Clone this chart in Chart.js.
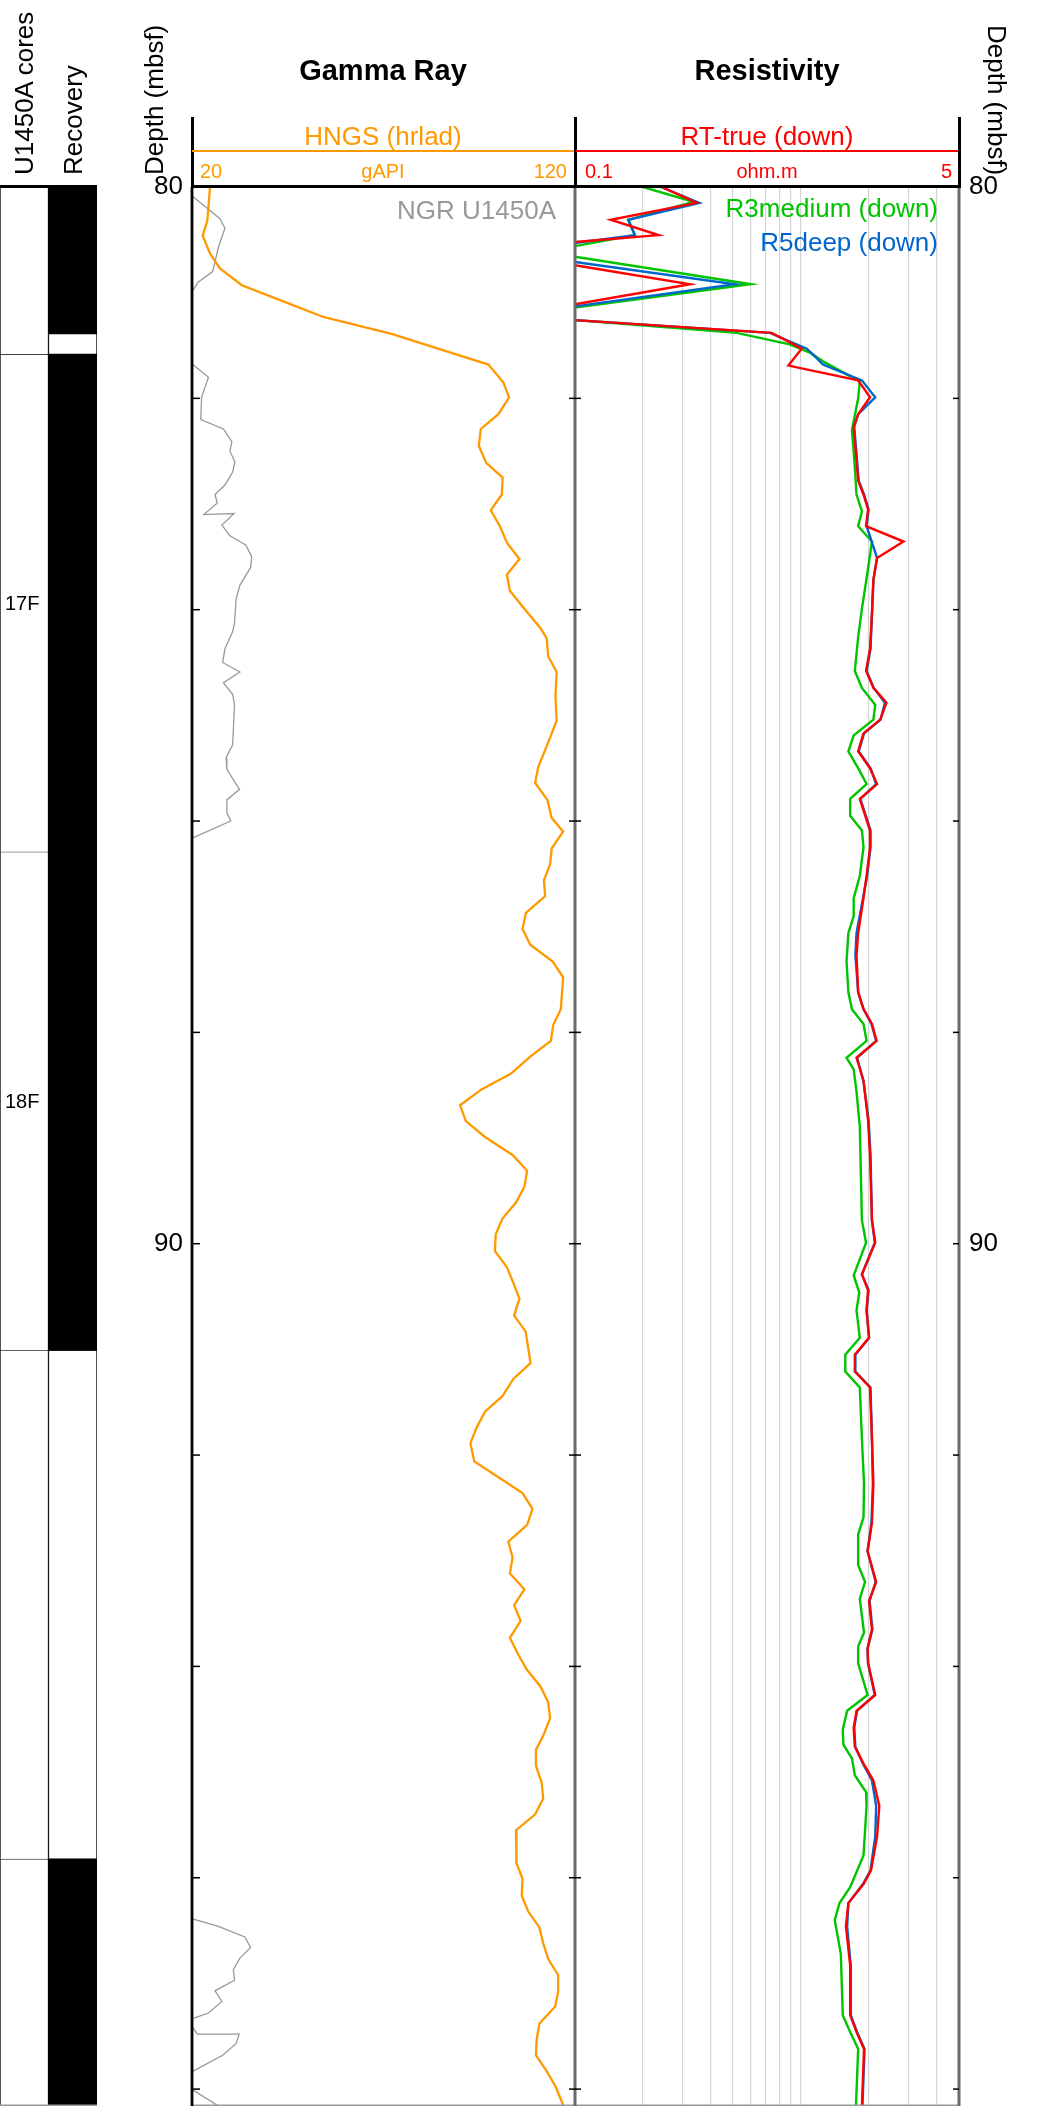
<!DOCTYPE html>
<html>
<head>
<meta charset="utf-8">
<script src="https://cdn.jsdelivr.net/npm/chart.js@4.4.1/dist/chart.umd.min.js"></script>
<style>
html,body{margin:0;padding:0;background:#fff;}
body{width:1054px;height:2106px;position:relative;overflow:hidden;font-family:"Liberation Sans",Arial,Helvetica,sans-serif;color:#000;}
canvas{position:absolute;top:0;}
.t{position:absolute;white-space:nowrap;}
.c{text-align:center;width:400px;}
.r{text-align:right;width:400px;}
.f26{font-size:26px;line-height:26px;}
.f20{font-size:20px;line-height:20px;}
.b29{font-size:29px;line-height:29px;font-weight:bold;}
.rl{transform:rotate(-90deg);transform-origin:0 0;}
.rr{transform:rotate(90deg);transform-origin:0 0;}
.ln{position:absolute;}
</style>
</head>
<body>
<canvas id="cores" width="97" height="2106" style="left:0"></canvas>
<canvas id="gamma" width="480" height="2140" style="left:100px"></canvas>
<canvas id="res" width="554" height="2140" style="left:500px"></canvas>

<!-- header structure -->
<div class="ln" style="left:190.5px;top:117px;width:3px;height:70px;background:#000"></div>
<div class="ln" style="left:573.5px;top:117px;width:3px;height:70px;background:#000"></div>
<div class="ln" style="left:957.5px;top:117px;width:3px;height:70px;background:#000"></div>
<div class="ln" style="left:192px;top:150px;width:382px;height:2px;background:#ff9900"></div>
<div class="ln" style="left:576px;top:150px;width:382px;height:2px;background:#ff0000"></div>
<div class="ln" style="left:190.5px;top:185.2px;width:770px;height:2.6px;background:#000"></div>
<div class="ln" style="left:0;top:185.2px;width:97px;height:2.6px;background:#000"></div>

<div class="t rl f26" style="left:11px;top:175px">U1450A cores</div>
<div class="t rl f26" style="left:60px;top:175px">Recovery</div>
<div class="t rl f26" style="left:141px;top:175px">Depth (mbsf)</div>
<div class="t rr f26" style="left:1010px;top:25px">Depth (mbsf)</div>

<div class="t c b29" style="left:183px;top:55.5px">Gamma Ray</div>
<div class="t c b29" style="left:567px;top:55.5px">Resistivity</div>
<div class="t c f26" style="left:183px;top:123px;color:#ff9900">HNGS (hrlad)</div>
<div class="t c f26" style="left:567px;top:123px;color:#ff0000">RT-true (down)</div>
<div class="t f20" style="left:200px;top:161px;color:#ff9900">20</div>
<div class="t c f20" style="left:183px;top:161px;color:#ff9900">gAPI</div>
<div class="t r f20" style="left:167px;top:161px;color:#ff9900">120</div>
<div class="t f20" style="left:585px;top:161px;color:#ff0000">0.1</div>
<div class="t c f20" style="left:567px;top:161px;color:#ff0000">ohm.m</div>
<div class="t r f20" style="left:552px;top:161px;color:#ff0000">5</div>
<div class="t r f26" style="left:156px;top:197px;color:#999999">NGR U1450A</div>
<div class="t r f26" style="left:538px;top:195px;color:#00c400">R3medium (down)</div>
<div class="t r f26" style="left:538px;top:229px;color:#0066cc">R5deep (down)</div>

<script>
// ---------------- data ----------------
const depthMin = 80;
const depthMax = 98.16;
const depthTicks = [80, 82, 84, 86, 88, 90, 92, 94, 96, 98];
const depthLabels = [80, 90];
const gammaMin = 20, gammaMax = 120;
const resMin = 0.1, resMax = 5;
const resGrid = [0.2, 0.3, 0.4, 0.5, 0.6, 0.7, 0.8, 0.9, 1, 2, 3, 4];

const coreNames  = ['16F', '17F', '18F', '19F', '20F'];
const coreTop    = [76.88, 81.58, 86.29, 91.01, 95.82];
const coreBottom = [81.58, 86.29, 91.01, 95.82, 100.52];
const recTop     = [76.88, 81.58, 86.29, null, 95.82];
const recBottom  = [81.39, 86.29, 91.01, null, 100.52];

const hngsDepth = [80.00,80.32,80.46,80.63,80.77,80.93,81.07,81.23,81.39,81.68,81.85,81.99,82.15,82.29,82.45,82.61,82.75,82.91,83.06,83.21,
  83.37,83.52,83.67,83.82,83.98,84.17,84.27,84.44,84.59,84.82,85.05,85.23,85.49,85.64,85.80,85.97,86.10,86.26,86.41,86.56,
  86.71,86.87,87.02,87.17,87.33,87.48,87.78,87.93,88.08,88.23,88.39,88.54,88.69,88.84,88.99,89.16,89.31,89.46,89.61,89.76,
  89.91,90.07,90.22,90.37,90.52,90.68,90.83,91.13,91.28,91.44,91.59,91.74,91.89,92.06,92.22,92.36,92.51,92.66,92.82,92.97,
  93.12,93.27,93.42,93.57,93.73,93.89,94.03,94.19,94.34,94.49,94.64,94.79,94.94,95.10,95.25,95.40,95.55,95.71,95.86,96.01,
  96.17,96.32,96.47,96.62,96.77,96.92,97.08,97.22,97.38,97.53,97.68,97.83,97.98,98.16];
const hngsValue = [24.7,24.0,22.8,24.7,27.3,33.0,43.0,54.3,72.1,97.4,101.3,102.8,100.0,95.4,94.9,96.8,101.1,100.9,98.0,100.4,
  102.3,105.5,102.2,103.0,106.5,110.9,112.6,113.0,115.2,114.9,115.2,113.3,110.4,109.6,112.8,113.9,116.9,113.9,113.5,111.9,
  112.2,107.2,106.3,108.3,114.2,116.9,116.3,114.3,113.7,108.3,103.3,95.6,90.0,91.5,96.5,103.7,107.5,106.8,104.6,101.1,
  99.3,99.1,102.2,103.9,105.5,104.1,107.1,108.4,103.9,101.1,96.5,94.3,92.7,93.7,100.4,106.3,108.9,107.5,102.6,103.7,
  103.0,106.8,104.1,105.8,103.0,105.2,107.4,111.0,113.0,113.5,111.9,109.8,109.8,111.3,111.7,109.6,104.6,104.8,104.6,106.3,
  106.1,107.8,110.7,111.7,113.0,115.6,115.6,114.8,110.7,110.0,109.8,112.6,115.0,117.0];

// NGR (null = no data)
const ngrDepth = [80.09,80.30,80.39,80.57,80.80,80.90,80.98,81.30,81.68,81.80,81.99,82.20,82.29,82.41,82.50,82.60,82.70,82.82,82.91,82.99,
  83.10,83.09,83.20,83.30,83.39,83.50,83.60,83.77,83.90,84.13,84.21,84.37,84.50,84.59,84.69,84.80,84.90,85.28,85.40,85.51,
  85.70,85.80,85.92,86.00,86.16,91.00,96.39,96.46,96.56,96.66,96.76,96.87,96.97,97.07,97.17,97.28,97.33,97.38,97.42,97.48,
  97.48,97.57,97.68,97.83,97.90,98.01,98.16];
const ngrValue = [20.2,27.3,28.6,26.9,25.4,21.6,20.2,null,20.2,24.3,22.5,22.3,28.2,30.4,29.9,31.2,30.6,28.6,26.0,26.6,
  23.1,31.0,27.8,29.9,34.1,35.6,35.3,32.5,31.5,31.1,30.6,28.6,28.0,32.5,28.2,30.6,31.1,30.6,28.9,29.1,
  32.4,29.1,29.1,30.1,20.2,null,20.1,26.9,33.8,35.3,32.5,30.8,31.1,26.0,27.8,24.3,20.3,null,20.3,21.4,
  32.3,31.5,28.0,20.3,null,20.3,26.9];

const rtDepth = [80.00,80.15,80.31,80.455,80.52,80.63,80.74,80.92,81.11,81.18,81.26,81.38,81.53,81.69,81.83,81.99,82.15,82.27,82.59,82.78,
  82.91,83.05,83.21,83.355,83.51,83.72,84.04,84.37,84.58,84.74,84.88,85.04,85.17,85.34,85.50,85.65,85.79,86.09,86.25,86.52,
  86.73,87.06,87.27,87.62,87.78,87.92,88.08,88.24,88.46,88.83,89.16,89.78,89.99,90.29,90.44,90.63,90.89,91.05,91.21,91.36,
  91.85,92.27,92.64,92.91,93.20,93.38,93.65,93.83,93.97,94.27,94.42,94.58,94.76,94.92,95.08,95.32,95.61,95.93,96.06,96.24,
  96.46,96.83,97.30,97.46,97.62,98.16];
const rtValue = [0.242,0.345,0.144,0.234,0.1,0.06,0.1,0.323,0.1,0.06,0.1,0.742,1.007,0.879,1.79,2.02,1.79,1.71,1.76,1.79,
  1.89,1.98,1.94,2.84,2.17,2.09,2.06,2.02,1.94,2.09,2.39,2.24,1.89,1.79,2.02,2.17,1.82,2.02,2.02,1.95,
  1.89,1.79,1.76,1.79,1.89,2.06,2.16,1.76,1.89,1.98,2.02,2.06,2.13,1.86,1.98,1.95,2.0,1.73,1.73,2.02,
  2.06,2.09,2.06,1.97,2.15,2.0,2.06,1.97,1.98,2.13,1.76,1.71,1.73,1.89,2.09,2.22,2.17,2.04,1.89,1.62,
  1.58,1.65,1.65,1.76,1.90,1.86];

const r5Depth = [80.00,80.15,80.31,80.455,80.53,80.62,80.71,80.92,81.13,81.19,81.26,81.38,81.53,81.60,81.68,81.83,81.99,82.15,82.27,82.59,
  82.78,82.91,83.05,83.21,83.51,83.72,84.04,84.37,84.58,84.74,84.88,85.04,85.17,85.34,85.50,85.65,85.79,86.09,86.25,86.52,
  86.73,87.06,87.27,87.62,87.78,87.92,88.08,88.24,88.46,88.83,89.16,89.78,89.99,90.29,90.44,90.63,90.89,91.05,91.21,91.36,
  91.85,92.27,92.64,92.91,93.20,93.38,93.65,93.83,93.97,94.27,94.42,94.58,94.76,94.92,95.08,95.32,95.61,95.93,96.06,96.24,
  96.46,96.83,97.30,97.46,97.62,98.16];
const r5Value = [0.24,0.355,0.172,0.184,0.1,0.06,0.1,0.51,0.1,0.06,0.1,0.729,1.06,1.15,1.25,1.86,2.13,1.79,1.72,1.77,
  1.80,1.90,1.99,1.95,2.17,2.09,2.06,2.03,1.95,2.10,2.35,2.25,1.90,1.80,2.03,2.15,1.83,2.03,2.03,1.96,
  1.88,1.76,1.74,1.79,1.89,2.05,2.15,1.77,1.89,1.99,2.03,2.06,2.12,1.86,1.99,1.95,2.0,1.74,1.74,2.03,
  2.06,2.08,2.05,1.97,2.14,2.01,2.07,1.97,1.98,2.12,1.77,1.72,1.74,1.88,2.06,2.15,2.13,2.03,1.88,1.62,
  1.60,1.66,1.66,1.77,1.91,1.87];

const r3Depth = [80.00,80.14,80.31,80.455,80.56,80.61,80.66,80.92,81.14,81.20,81.26,81.38,81.49,81.57,81.65,81.84,82.00,82.30,82.65,82.91,
  83.07,83.21,83.355,83.61,83.99,84.26,84.58,84.74,84.90,85.04,85.19,85.34,85.50,85.65,85.79,85.95,86.09,86.25,86.52,86.73,
  86.90,87.06,87.33,87.62,87.78,87.92,88.08,88.24,88.35,88.56,88.89,89.78,89.99,90.30,90.46,90.63,90.89,91.05,91.21,91.36,
  91.85,92.27,92.59,92.75,93.04,93.20,93.36,93.68,93.81,93.97,94.27,94.42,94.60,94.74,94.87,95.03,95.19,95.32,95.79,96.09,
  96.24,96.40,96.72,97.30,97.46,97.62,98.16];
const r3Value = [0.20,0.334,0.172,0.184,0.1,0.06,0.1,0.60,0.1,0.06,0.1,0.52,0.89,1.10,1.25,1.82,1.79,1.68,1.73,1.76,
  1.86,1.79,2.06,1.98,1.86,1.79,1.73,1.86,2.13,2.09,1.71,1.62,1.79,1.95,1.65,1.65,1.86,1.89,1.82,1.71,
  1.71,1.62,1.59,1.62,1.68,1.89,1.95,1.59,1.71,1.76,1.82,1.86,1.94,1.71,1.81,1.76,1.82,1.57,1.57,1.82,
  1.86,1.90,1.89,1.79,1.79,1.92,1.82,1.90,1.79,1.79,1.97,1.60,1.53,1.54,1.68,1.73,1.94,1.95,1.89,1.65,
  1.48,1.41,1.50,1.53,1.65,1.79,1.75];

// ---------------- helpers ----------------
Chart.defaults.font.family = '"Liberation Sans", Arial, Helvetica, sans-serif';
Chart.defaults.animation = false;

const pts = (depths, values) => depths.map((d, i) => ({ x: values[i], y: d }));

function makeFrame(cfg) {
  return {
    id: 'trackFrame',
    afterDraw(chart) {
      const { ctx, chartArea: a } = chart;
      const ys = chart.scales.y;
      ctx.save();
      if (cfg.bottomColor) {
        ctx.fillStyle = cfg.bottomColor;
        ctx.fillRect(a.left, a.bottom - 1.5, a.right - a.left, 1.5);
      }
      (cfg.edges || []).forEach(e => {
        const x = e.side === 'left' ? a.left : a.right;
        ctx.fillStyle = e.color;
        ctx.fillRect(x - e.width / 2, a.top, e.width, a.bottom - a.top);
        if (e.tick) {
          ctx.fillStyle = '#000';
          ys.ticks.forEach(t => {
            const py = ys.getPixelForValue(t.value);
            ctx.fillRect(x + e.tick[0], py - 0.75, e.tick[1] - e.tick[0], 1.5);
          });
        }
      });
      ctx.restore();
    }
  };
}

function depthAxis(pos, width, pad) {
  return {
    type: 'linear', position: pos, reverse: true, min: depthMin, max: depthMax,
    afterBuildTicks: s => { s.ticks = depthTicks.map(v => ({ value: v })); },
    afterFit: s => { s.width = width; },
    grid: { display: false, drawTicks: false }, border: { display: false },
    ticks: {
      autoSkip: false, padding: pad, color: '#000', font: { size: 26 },
      callback: v => (depthLabels.includes(v) ? String(v) : '')
    }
  };
}

// ---------------- cores ----------------
const coreDatasets = [];
coreNames.forEach((n, i) => {
  if (recTop[i] !== null) {
    coreDatasets.push({
      label: n + ' recovery', order: 1,
      data: [null, [recTop[i], recBottom[i]]],
      backgroundColor: '#000', borderWidth: 0
    });
  }
});
coreNames.forEach((n, i) => {
  coreDatasets.push({
    label: n, order: 2,
    data: [[coreTop[i], coreBottom[i]], [coreTop[i], coreBottom[i]]],
    backgroundColor: '#fff', borderColor: '#000',
    borderWidth: { top: 1, left: 1, right: 1, bottom: 0 }
  });
});

const coreChart = new Chart(document.getElementById('cores'), {
  type: 'bar',
  data: { labels: ['cores', 'recovery'], datasets: coreDatasets },
  options: {
    responsive: false, animation: false,
    layout: { padding: { top: 187, left: 0, right: 0, bottom: 0 } },
    datasets: { bar: { grouped: false, barPercentage: 1, categoryPercentage: 1, borderSkipped: false } },
    plugins: { legend: { display: false }, tooltip: { enabled: false } },
    scales: {
      x: { display: false },
      y: { display: false, reverse: true, min: depthMin, max: depthMax }
    }
  },
  plugins: [makeFrame({ bottomColor: '#999' })]
});

// core labels (real text)
(function () {
  const ys = coreChart.scales.y;
  coreNames.forEach((n, i) => {
    if (recTop[i] === null) return;
    const mid = (coreTop[i] + coreBottom[i]) / 2;
    if (mid < depthMin || mid > depthMax) return;
    const py = ys.getPixelForValue(Math.min(mid, depthMax - 0.2));
    const el = document.createElement('div');
    el.className = 't f20';
    el.style.left = '5px';
    el.style.top = (py - 10) + 'px';
    el.textContent = n;
    document.body.appendChild(el);
  });
})();

// ---------------- gamma ray ----------------
// canvas is 34px taller than the page so the axis label padding falls off-page
new Chart(document.getElementById('gamma'), {
  type: 'scatter',
  data: {
    datasets: [
      { label: 'HNGS (hrlad)', data: pts(hngsDepth, hngsValue), showLine: true,
        borderColor: '#ff9900', borderWidth: 2.3, pointRadius: 0, clip: 0 },
      { label: 'NGR U1450A', data: pts(ngrDepth, ngrValue), showLine: true, spanGaps: false,
        borderColor: '#999999', borderWidth: 1.3, pointRadius: 0, clip: 0 }
    ]
  },
  options: {
    responsive: false, animation: false,
    layout: { padding: { top: 187, left: 0, right: 5, bottom: 34 } },
    plugins: { legend: { display: false }, tooltip: { enabled: false } },
    scales: {
      x: { type: 'linear', min: gammaMin, max: gammaMax, display: false },
      y: depthAxis('left', 92, 9)
    }
  },
  plugins: [makeFrame({
    bottomColor: '#999',
    edges: [{ side: 'left', color: '#000', width: 2.8, tick: [0, 8] }]
  })]
});

// ---------------- resistivity ----------------
new Chart(document.getElementById('res'), {
  type: 'scatter',
  data: {
    datasets: [
      { label: 'RT-true (down)', data: pts(rtDepth, rtValue), showLine: true,
        borderColor: '#ff0000', borderWidth: 2.4, pointRadius: 0, clip: 0 },
      { label: 'R5deep (down)', data: pts(r5Depth, r5Value), showLine: true,
        borderColor: '#0066cc', borderWidth: 2.4, pointRadius: 0, clip: 0 },
      { label: 'R3medium (down)', data: pts(r3Depth, r3Value), showLine: true,
        borderColor: '#00c400', borderWidth: 2.4, pointRadius: 0, clip: 0 }
    ]
  },
  options: {
    responsive: false, animation: false,
    layout: { padding: { top: 187, left: 75, right: 0, bottom: 34 } },
    plugins: { legend: { display: false }, tooltip: { enabled: false } },
    scales: {
      x: {
        type: 'logarithmic', position: 'top', min: resMin, max: resMax,
        afterBuildTicks: s => { s.ticks = resGrid.map(v => ({ value: v })); },
        afterFit: s => { s.height = 0; },
        ticks: { display: false },
        grid: { color: '#d4d4d4', lineWidth: 1.2, drawTicks: false },
        border: { display: false }
      },
      y: depthAxis('right', 95, 10)
    }
  },
  plugins: [makeFrame({
    bottomColor: '#999',
    edges: [
      { side: 'left', color: '#6b6b6b', width: 3, tick: [-6, 6] },
      { side: 'right', color: '#6b6b6b', width: 3, tick: [-6, 0] }
    ]
  })]
});
</script>
</body>
</html>
